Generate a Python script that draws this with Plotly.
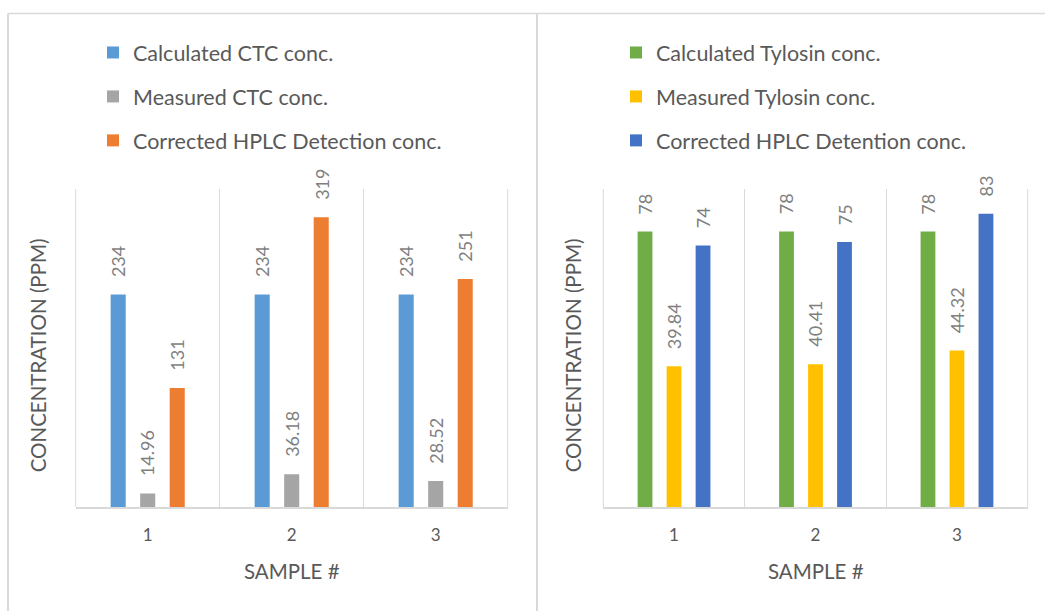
import plotly.graph_objects as go

W, H = 1045, 611

samples = ["1", "2", "3"]

ctc_names = ["Calculated CTC conc.", "Measured CTC conc.", "Corrected HPLC Detection conc."]
ctc_calculated = [234, 234, 234]
ctc_measured = [14.96, 36.18, 28.52]
ctc_corrected = [131, 319, 251]
ctc_labels = [["234", "234", "234"], ["14.96", "36.18", "28.52"], ["131", "319", "251"]]

ty_names = ["Calculated Tylosin conc.", "Measured Tylosin conc.", "Corrected HPLC Detention conc."]
ty_calculated = [78, 78, 78]
ty_measured = [39.84, 40.41, 44.32]
ty_corrected = [74, 75, 83]
ty_labels = [["78", "78", "78"], ["39.84", "40.41", "44.32"], ["74", "75", "83"]]

ctc_colors = ["#5B9BD5", "#A5A5A5", "#ED7D31"]
ty_colors = ["#70AD47", "#FFC000", "#4472C4"]

FONT = "Lato"
TXT = "#595959"
LBL = "#7F7F7F"
GRID = "#D9D9D9"

fig = go.Figure()

ctc_series = [ctc_calculated, ctc_measured, ctc_corrected]
ty_series = [ty_calculated, ty_measured, ty_corrected]

for j, (name, vals, col) in enumerate(zip(ctc_names, ctc_series, ctc_colors)):
    fig.add_trace(go.Bar(x=samples, y=vals, name=name, marker=dict(color=col, line=dict(width=0)),
                         xaxis="x", yaxis="y", legend="legend", legendgroup="c%d" % j,
                         hoverinfo="skip"))
for j, (name, vals, col) in enumerate(zip(ty_names, ty_series, ty_colors)):
    fig.add_trace(go.Bar(x=samples, y=vals, name=name, marker=dict(color=col, line=dict(width=0)),
                         xaxis="x2", yaxis="y2", legend="legend2", legendgroup="t%d" % j,
                         hoverinfo="skip"))

annotations = []
shift_l = [-29.5, 0, 29.5]
shift_r = [-29.2, 0, 29.2]
for j, vals in enumerate(ctc_series):
    for i, v in enumerate(vals):
        annotations.append(dict(x=i, y=v, xref="x", yref="y", text=ctc_labels[j][i],
                                textangle=-90, showarrow=False, xanchor="center", yanchor="bottom",
                                xshift=shift_l[j], yshift=15, font=dict(family=FONT, size=18, color=LBL)))
for j, vals in enumerate(ty_series):
    for i, v in enumerate(vals):
        annotations.append(dict(x=i, y=v, xref="x2", yref="y2", text=ty_labels[j][i],
                                textangle=-90, showarrow=False, xanchor="center", yanchor="bottom",
                                xshift=shift_r[j], yshift=15, font=dict(family=FONT, size=18, color=LBL)))

def py(p):
    return (H - p) / H

def px(p):
    return p / W

title_font = dict(family=FONT, size=20.5, color=TXT)
for xc in (38.3, 573.3):
    annotations.append(dict(x=px(xc), y=py(355), xref="paper", yref="paper", text="CONCENTRATION (PPM)",
                            textangle=-90, showarrow=False, xanchor="center", yanchor="middle", font=title_font))
for xc in (291.7, 815.5):
    annotations.append(dict(x=px(xc), y=py(570.7), xref="paper", yref="paper", text="SAMPLE #",
                            showarrow=False, xanchor="center", yanchor="middle", font=title_font))

shapes = [
    dict(type="line", xref="paper", yref="paper", x0=px(8), x1=1.0, y0=py(13.5), y1=py(13.5),
         line=dict(color=GRID, width=1.5)),
    dict(type="line", xref="paper", yref="paper", x0=px(8), x1=px(8), y0=py(13.5), y1=0,
         line=dict(color=GRID, width=2)),
    dict(type="line", xref="paper", yref="paper", x0=px(537), x1=px(537), y0=py(13.5), y1=0,
         line=dict(color=GRID, width=2)),
]
# outer category boundary lines at both edges of each plot area
for xr, yr in (("x domain", "y domain"), ("x2 domain", "y2 domain")):
    for xe in (0, 1):
        shapes.append(dict(type="line", xref=xr, yref=yr, x0=xe, x1=xe, y0=0, y1=1,
                           line=dict(color=GRID, width=1), layer="below"))

xax = dict(type="category", tickson="boundaries", showgrid=True, gridcolor=GRID, gridwidth=1,
           showline=True, linecolor=GRID, linewidth=1.5, ticks="", zeroline=False,
           range=[-0.5, len(samples) - 0.5],
           tickfont=dict(family=FONT, size=17, color=TXT), ticklabelstandoff=12, fixedrange=True)
yax = dict(showticklabels=False, showgrid=False, zeroline=False, ticks="", showline=False, fixedrange=True,
           domain=[py(507), py(189)])

leg_font = dict(family=FONT, size=21.5, color=TXT)

fig.update_layout(
    width=W, height=H,
    margin=dict(l=0, r=0, t=0, b=0),
    paper_bgcolor="white", plot_bgcolor="white",
    barmode="group", bargap=0.385, bargroupgap=0.49,
    xaxis=dict(xax, domain=[px(75.7), px(507.7)], anchor="y"),
    yaxis=dict(yax, range=[0, 350], anchor="x"),
    xaxis2=dict(xax, domain=[px(603.3), px(1027.7)], anchor="y2"),
    yaxis2=dict(yax, range=[0, 90], anchor="x2"),
    legend=dict(x=px(93), y=py(32), xanchor="left", yanchor="top", font=leg_font,
                tracegroupgap=13, bgcolor="rgba(0,0,0,0)", itemclick=False, itemdoubleclick=False),
    legend2=dict(x=px(616), y=py(32), xanchor="left", yanchor="top", font=leg_font,
                 tracegroupgap=13, bgcolor="rgba(0,0,0,0)", itemclick=False, itemdoubleclick=False),
    annotations=annotations,
    shapes=shapes,
    showlegend=True,
)

fig.write_html("out.html")
